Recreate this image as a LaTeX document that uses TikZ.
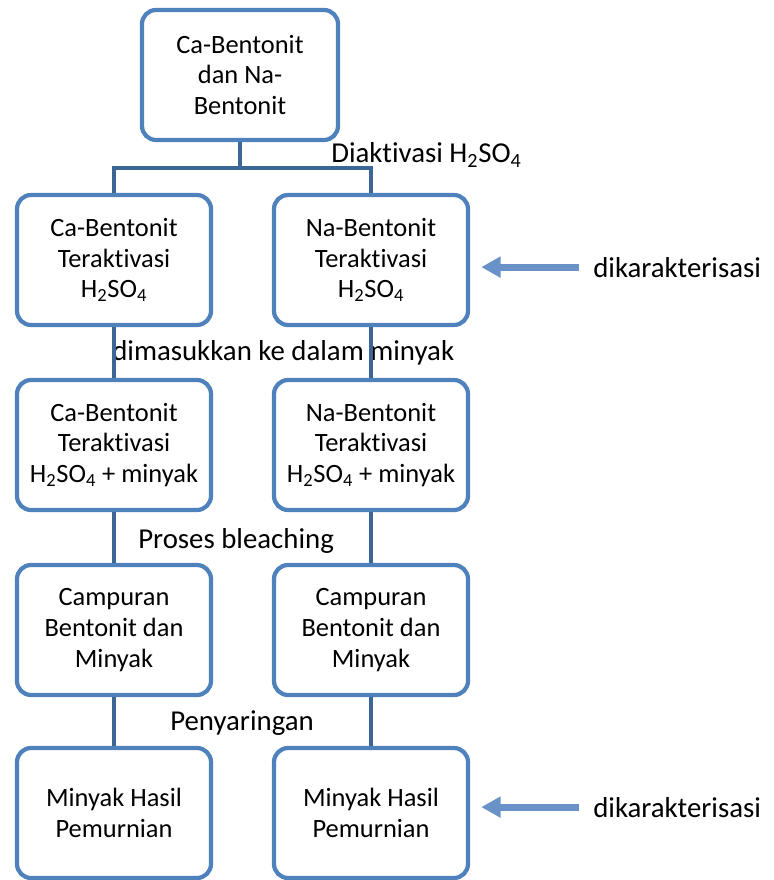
\documentclass[tikz,border=0pt]{standalone}
\usepackage{fontspec}
\setmainfont{Carlito}[Ligatures={NoCommon,NoDiscretionary}]
\usepackage{xcolor}
\usetikzlibrary{positioning,arrows.meta}
\definecolor{boxBlue}{HTML}{4F81BD}
\definecolor{linkBlue}{HTML}{3C6696}
\definecolor{arrowBlue}{HTML}{6892C8}
\newcommand{\hsofour}{H\textsubscript{2}SO\textsubscript{4}}

\tikzset{
  stepbox/.style={draw=boxBlue, line width=3pt, rounded corners=10pt, fill=white,
                  minimum width=4.85cm, minimum height=3.25cm, align=center,
                  inner sep=2pt, font=\fontsize{18.8}{21.8}\selectfont},
  link/.style={draw=linkBlue, line width=3pt},
  lbl/.style={inner sep=0pt, font=\fontsize{20.5}{24}\selectfont},
  sidearrow/.style={draw=arrowBlue, line width=5pt,
                    -{Triangle[length=0.48cm, width=0.5cm]},
                    shorten >=0.28cm, shorten <=0.35cm}
}

\begin{document}
\begin{tikzpicture}
  \useasboundingbox (0,0) rectangle (19.35,-22);

  % boxes
  \node[stepbox, minimum width=4.9cm] (src) at (6.0,-1.875) {Ca-Bentonit\\dan Na-\\Bentonit};
  \node[stepbox] (caAct) at (2.85,-6.5)    {Ca-Bentonit\\Teraktivasi\\\hsofour};
  \node[stepbox] (naAct) at (9.275,-6.5)   {Na-Bentonit\\Teraktivasi\\\hsofour};
  \node[stepbox] (caOil) at (2.85,-11.125) {Ca-Bentonit\\Teraktivasi\\\hsofour{} + minyak};
  \node[stepbox] (naOil) at (9.275,-11.125){Na-Bentonit\\Teraktivasi\\\hsofour{} + minyak};
  \node[stepbox] (caMix) at (2.85,-15.75)  {Campuran\\Bentonit dan\\Minyak};
  \node[stepbox] (naMix) at (9.275,-15.75) {Campuran\\Bentonit dan\\Minyak};
  \node[stepbox] (caPure) at (2.85,-20.325) {Minyak Hasil\\Pemurnian};
  \node[stepbox] (naPure) at (9.275,-20.325){Minyak Hasil\\Pemurnian};

  % process labels
  \node[lbl, anchor=base west] (actLbl)    at (8.275,-4.075) {Diaktivasi \hsofour};
  \node[lbl, anchor=base west] (oilLbl)    at (2.8,-9.0)     {dimasukkan ke dalam minyak};
  \node[lbl, anchor=base west] (bleachLbl) at (3.45,-13.7)   {Proses bleaching};
  \node[lbl, anchor=base west] (filtLbl)   at (4.25,-18.25)  {Penyaringan};
  \node[lbl, anchor=base west] (charTop)   at (14.825,-6.925)  {dikarakterisasi};
  \node[lbl, anchor=base west] (charBot)   at (14.825,-20.425) {dikarakterisasi};

  % connectors
  \coordinate (split) at (6.0,-4.2);
  \draw[link] (src.south) -- (split);
  \draw[link] (caAct.north) |- (split) -| (naAct.north);
  \draw[link] (caAct) -- (caOil);
  \draw[link] (naAct) -- (naOil);
  \draw[link] (caOil) -- (caMix);
  \draw[link] (naOil) -- (naMix);
  \draw[link] (caMix) -- (caPure);
  \draw[link] (naMix) -- (naPure);

  % characterisation arrows
  \draw[sidearrow] (charTop.west) -- (charTop.west -| naAct.east);
  \draw[sidearrow] (charBot.west) -- (charBot.west -| naPure.east);
\end{tikzpicture}
\end{document}
